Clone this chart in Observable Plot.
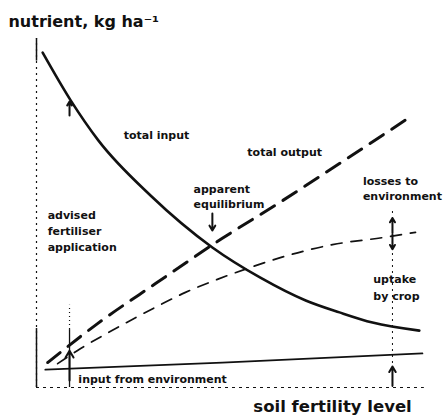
<!DOCTYPE html>
<html><head><meta charset="utf-8">
<script src="https://cdn.jsdelivr.net/npm/d3@7"></script>
<script src="https://cdn.jsdelivr.net/npm/@observablehq/plot@0.6"></script>
<style>body{margin:0;background:#fff}</style>
</head><body><div id="chart"></div>
<script>
// soil fertility level (0-100, relative) and nutrient amounts (relative)
const inputX  = [1.6, 8.9, 16.1, 29.7, 45.8, 58.3, 70.1, 78.9, 87.5, 99.7];
const inputY  = [95.4, 81.8, 70.4, 54.7, 39.9, 31.3, 24.8, 21.4, 18.5, 16.2];
const outputX = [2.9, 15.9, 31.0, 48.4, 63.3, 78.9, 97.9];
const outputY = [7.1, 18.2, 29.6, 42.5, 52.7, 63.8, 77.5];
const uptakeX = [5.5, 11.5, 19.3, 26.3, 32.3, 38.8, 47.1, 55.7, 63.5, 77.1, 90.1, 98.7];
const uptakeY = [6.8, 11.1, 16.0, 20.2, 23.6, 27.1, 30.8, 34.2, 37.0, 40.7, 42.7, 44.2];
const envX = [2.3, 48.4, 100.5];
const envY = [5.1, 7.1, 9.7];

const advisedX = 8.6;
const fertileX = 92.7;
const equilibriumX = 45.8;

const labelText = ["total input", "total output", "apparent", "equilibrium", "losses to", "environment",
  "advised", "fertiliser", "application", "uptake", "by crop", "input from environment"];
const labelX = [22.7, 54.9, 40.9, 40.9, 85.0, 85.0, 2.9, 2.9, 2.9, 87.7, 87.7, 10.9];
const labelY = [71.8, 66.9, 56.4, 52.1, 58.7, 54.4, 49.0, 44.4, 39.9, 30.8, 26.0, 2.3];

const arrows = [
  {x1: advisedX, y1: 2, x2: advisedX, y2: 10.5},
  {x1: 8.6, y1: 77.5, x2: 8.6, y2: 81.5},
  {x1: equilibriumX, y1: 49.6, x2: equilibriumX, y2: 44.7},
  {x1: fertileX, y1: 44.0, x2: fertileX, y2: 48.3},
  {x1: fertileX, y1: 43.6, x2: fertileX, y2: 39.4},
  {x1: fertileX, y1: 0.5, x2: fertileX, y2: 6}
];

const pts = (xs, ys) => xs.map((x, i) => ({x, y: ys[i]}));
const labels = labelText.map((t, i) => ({t, x: labelX[i], y: labelY[i]}));
const font = "DejaVu Sans";

const chart = Plot.plot({
  width: 444, height: 418,
  marginTop: 36, marginRight: 24, marginBottom: 31, marginLeft: 36,
  x: {domain: [0, 100], axis: null},
  y: {domain: [0, 100], axis: null},
  style: {background: "#fff", fontFamily: font},
  marks: [
    // axes
    Plot.ruleX([0], {y1: 0, y2: 99.4, stroke: "#111", strokeWidth: 1.2, strokeDasharray: "2,4"}),
    Plot.ruleX([0], {y1: 0, y2: 16.8, stroke: "#111", strokeWidth: 1.5}),
    Plot.ruleX([0], {y1: 93, y2: 99.4, stroke: "#111", strokeWidth: 1.5}),
    Plot.ruleY([0], {x1: 0, x2: 101, stroke: "#111", strokeWidth: 1.2, strokeDasharray: "3,4"}),
    // guide verticals
    Plot.ruleX([advisedX], {y1: 0, y2: 16.5, stroke: "#111", strokeWidth: 1.3}),
    Plot.ruleX([advisedX], {y1: 16.5, y2: 23.4, stroke: "#111", strokeWidth: 1.2, strokeDasharray: "1,3"}),
    Plot.ruleX([fertileX], {y1: 0, y2: 51, stroke: "#111", strokeWidth: 1, strokeDasharray: "2,4"}),
    // curves
    Plot.line(pts(envX, envY), {x: "x", y: "y", stroke: "#111", strokeWidth: 1.8}),
    Plot.line(pts(inputX, inputY), {x: "x", y: "y", curve: "monotone-x", stroke: "#111", strokeWidth: 2.6}),
    Plot.line(pts(outputX, outputY), {x: "x", y: "y", curve: "monotone-x", stroke: "#111", strokeWidth: 3, strokeDasharray: "16,10"}),
    Plot.line(pts(uptakeX, uptakeY), {x: "x", y: "y", curve: "monotone-x", stroke: "#111", strokeWidth: 1.7, strokeDasharray: "11,9"}),
    // arrows
    Plot.arrow(arrows, {x1: "x1", y1: "y1", x2: "x2", y2: "y2", stroke: "#111", strokeWidth: 2, headLength: 6}),
    // labels
    Plot.text(labels, {x: "x", y: "y", text: "t", textAnchor: "start", lineAnchor: "middle",
      fontSize: 11, fontWeight: "bold", fill: "#111"}),
    Plot.text(["nutrient, kg ha\u207B\u00B9"], {x: -7.3, y: 104.3, textAnchor: "start", lineAnchor: "middle",
      fontSize: 16, fontWeight: "bold", fill: "#111"}),
    Plot.text(["soil fertility level"], {x: 77.1, y: -5.4, textAnchor: "middle", lineAnchor: "middle",
      fontSize: 16.5, fontWeight: "bold", fill: "#111"})
  ]
});
document.getElementById("chart").append(chart);
</script>
</body></html>
